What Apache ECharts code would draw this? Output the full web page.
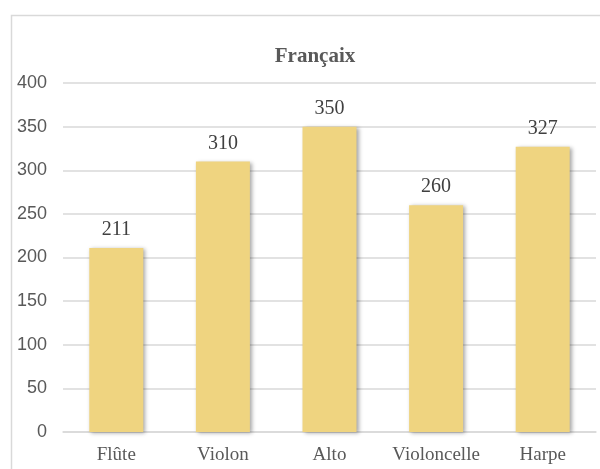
<!DOCTYPE html>
<html>
<head>
<meta charset="utf-8">
<script src="https://cdn.jsdelivr.net/npm/echarts@6/dist/echarts.min.js"></script>
<style>
html,body{margin:0;padding:0;background:#fff;}
#chart{width:600px;height:469px;}
</style>
</head>
<body>
<div id="chart"></div>
<script>
const titleText = 'Françaix';
const categories = ['Flûte', 'Violon', 'Alto', 'Violoncelle', 'Harpe'];
const values = [211, 310, 350, 260, 327];
const yMin = 0, yMax = 400, yStep = 50;

const chart = echarts.init(document.getElementById('chart'));
const serif = '"Liberation Serif", "Times New Roman", serif';
const sans = '"Liberation Sans", Arial, sans-serif';
chart.setOption({
  animation: false,
  backgroundColor: '#fff',
  title: {
    text: titleText,
    left: 310, top: 41, textAlign: 'center',
    textStyle: {fontFamily: serif, fontWeight: 'bold', fontSize: 21, color: '#595959'}
  },
  graphic: [{
    type: 'rect', left: 9, top: 13, z: -1,
    shape: {width: 700, height: 700},
    style: {fill: 'none', stroke: '#d9d9d9', lineWidth: 1.5}
  }],
  grid: {left: 63, right: 4, top: 83, bottom: 37, containLabel: false},
  xAxis: {
    type: 'category', data: categories,
    axisLine: {lineStyle: {color: '#d9d9d9', width: 1.5}},
    axisTick: {show: false},
    axisLabel: {interval: 0, fontFamily: serif, fontSize: 19, color: '#595959', margin: 14}
  },
  yAxis: {
    type: 'value', min: yMin, max: yMax, interval: yStep,
    axisLine: {show: false}, axisTick: {show: false},
    splitLine: {lineStyle: {color: '#d9d9d9', width: 1.5}},
    axisLabel: {fontFamily: sans, fontSize: 18, color: '#595959', margin: 16}
  },
  series: [{
    type: 'bar', data: values, barWidth: 54,
    itemStyle: {color: '#EFD480', shadowColor: 'rgba(0,0,0,0.35)', shadowBlur: 4, shadowOffsetX: 2, shadowOffsetY: 1},
    label: {show: true, position: 'top', distance: 8, fontFamily: serif, fontSize: 20, color: '#404040'}
  }]
});
</script>
</body>
</html>
